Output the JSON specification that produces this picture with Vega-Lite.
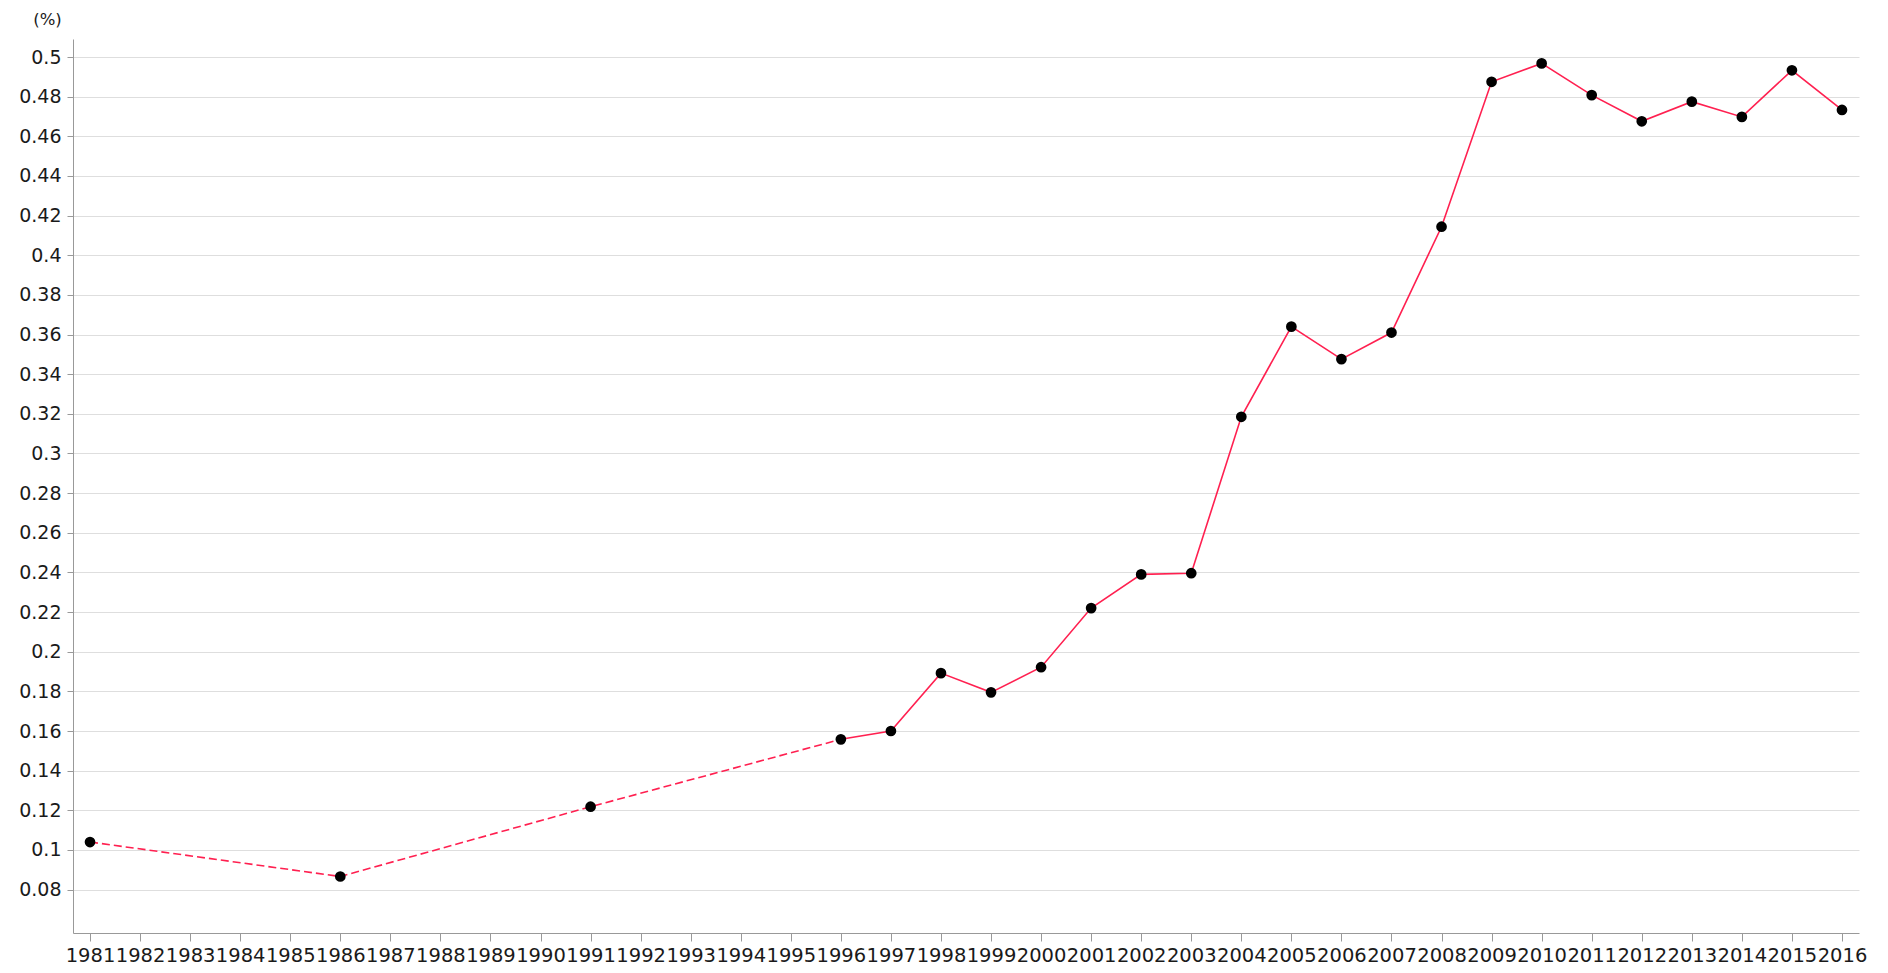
{
  "$schema": "https://vega.github.io/schema/vega-lite/v6.json",
  "width": 1786,
  "height": 894,
  "autosize": {"type": "none"},
  "padding": {"left": 73, "top": 39, "right": 29, "bottom": 40},
  "background": "white",
  "config": {
    "view": {"stroke": null},
    "font": "DejaVu Sans",
    "axis": {
      "labelFont": "DejaVu Sans",
      "titleFont": "DejaVu Sans",
      "labelColor": "#1a1a1a",
      "titleColor": "#1a1a1a",
      "domainColor": "#999",
      "tickColor": "#999",
      "gridColor": "#dedede"
    }
  },
  "data": {
    "values": [
      {"year": 1981, "value": 0.104},
      {"year": 1986, "value": 0.0866},
      {"year": 1991, "value": 0.1218},
      {"year": 1996, "value": 0.1558},
      {"year": 1997, "value": 0.160},
      {"year": 1998, "value": 0.1892},
      {"year": 1999, "value": 0.1795},
      {"year": 2000, "value": 0.1922},
      {"year": 2001, "value": 0.222},
      {"year": 2002, "value": 0.239},
      {"year": 2003, "value": 0.2396},
      {"year": 2004, "value": 0.3185},
      {"year": 2005, "value": 0.364},
      {"year": 2006, "value": 0.3476},
      {"year": 2007, "value": 0.361},
      {"year": 2008, "value": 0.4144},
      {"year": 2009, "value": 0.4875},
      {"year": 2010, "value": 0.4968},
      {"year": 2011, "value": 0.4808},
      {"year": 2012, "value": 0.4676},
      {"year": 2013, "value": 0.4775},
      {"year": 2014, "value": 0.4698},
      {"year": 2015, "value": 0.4933},
      {"year": 2016, "value": 0.4733}
    ]
  },
  "encoding": {
    "x": {
      "field": "year",
      "type": "quantitative",
      "scale": {"domain": [1980.66, 2016.34], "nice": false, "zero": false},
      "axis": {
        "title": null,
        "grid": false,
        "values": [1981,1982,1983,1984,1985,1986,1987,1988,1989,1990,1991,1992,1993,1994,1995,1996,1997,1998,1999,2000,2001,2002,2003,2004,2005,2006,2007,2008,2009,2010,2011,2012,2013,2014,2015,2016],
        "format": "d",
        "labelOverlap": false,
        "labelBound": false,
        "labelFlush": false,
        "labelFontSize": 19.5,
        "tickSize": 8,
        "labelPadding": 5
      }
    },
    "y": {
      "field": "value",
      "type": "quantitative",
      "scale": {"domain": [0.0581, 0.5091], "nice": false, "zero": false},
      "axis": {
        "title": "(%)",
        "titleAngle": 0,
        "titleAlign": "center",
        "titleBaseline": "middle",
        "titleX": -26,
        "titleY": -20,
        "titleFontSize": 16.5,
        "titleFontWeight": "normal",
        "values": [0.08,0.1,0.12,0.14,0.16,0.18,0.2,0.22,0.24,0.26,0.28,0.3,0.32,0.34,0.36,0.38,0.4,0.42,0.44,0.46,0.48,0.5],
        "format": "~g",
        "labelOverlap": false,
        "labelFontSize": 19,
        "tickSize": 6,
        "labelPadding": 6,
        "grid": true
      }
    }
  },
  "layer": [
    {
      "transform": [{"filter": "datum.year <= 1996"}],
      "mark": {"type": "line", "color": "#ff2050", "strokeWidth": 1.6, "strokeDash": [8, 4]}
    },
    {
      "transform": [{"filter": "datum.year >= 1996"}],
      "mark": {"type": "line", "color": "#ff2050", "strokeWidth": 1.6}
    },
    {
      "mark": {"type": "circle", "color": "black", "opacity": 1, "size": 115}
    }
  ]
}
